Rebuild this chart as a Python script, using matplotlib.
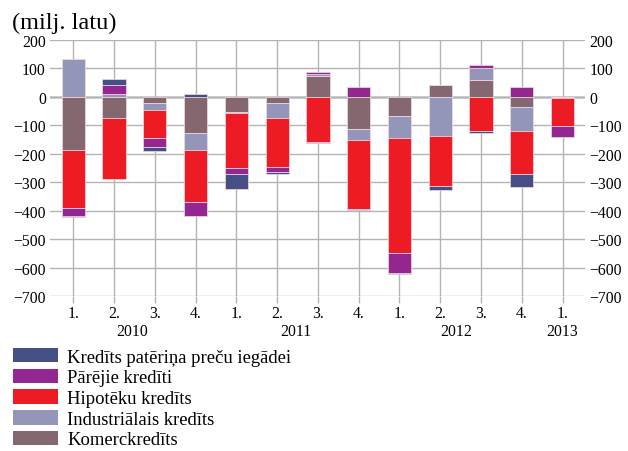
import numpy as np
import matplotlib
matplotlib.use("Agg")
import matplotlib.pyplot as plt
from matplotlib.patches import Patch
from matplotlib.transforms import blended_transform_factory

plt.rcParams['font.family'] = ['Liberation Serif', 'DejaVu Serif']

# quarters 2010 Q1 .. 2013 Q1
quarters = ["1.", "2.", "3.", "4.", "1.", "2.", "3.", "4.", "1.", "2.", "3.", "4.", "1."]
years = ["2010", "2011", "2012", "2013"]
year_pos = [1.45, 5.45, 9.4, 12]

# values (milj. latu)
komerc = [-186, -75, -20, -127, -52, -20, 73, -113, -66, 41, 61, -34, -2]
industrial = [132, 12, -25, -60, -6, -55, 7, -39, -78, -138, 41, -87, 0]
hipoteku = [-205, -213, -98, -181, -190, -172, -158, -240, -403, -174, -121, -148, -100]
parejie = [-26, 30, -34, -49, -21, -16, 8, 34, -71, 0, 9, 34, -39]
paterina = [-3, 22, -14, 10, -56, -6, -3, -4, -5, -16, -7, -48, 0]

# stacking order from zero outwards
series = [
    ("Komerckredīts", komerc, "#84676f"),
    ("Industriālais kredīts", industrial, "#9496b9"),
    ("Hipotēku kredīts", hipoteku, "#ed1c24"),
    ("Pārējie kredīti", parejie, "#93278f"),
    ("Kredīts patēriņa preču iegādei", paterina, "#464f85"),
]

fig = plt.figure(figsize=(6.28, 4.52), dpi=100)
ax = fig.add_axes([0.0796, 0.3423, 0.852, 0.567])

x = np.arange(len(quarters))
pos_bottom = np.zeros(len(x))
neg_bottom = np.zeros(len(x))
for name, vals, col in series:
    v = np.array(vals, dtype=float)
    bottom = np.where(v >= 0, pos_bottom, neg_bottom)
    ax.bar(x, v, 0.57, bottom=bottom, color=col, edgecolor="#f3dbe6",
           linewidth=0.5, zorder=3)
    pos_bottom += np.where(v >= 0, v, 0)
    neg_bottom += np.where(v < 0, v, 0)

ax.set_xlim(-0.57, 12.55)
ax.set_ylim(-700, 200)
ax.set_yticks(np.arange(-700, 201, 100))
ax.set_xticks(x)
ax.set_xticklabels(quarters, fontsize=11.3)
ax.grid(True, color="#b4b4b4", linewidth=1.0, zorder=0)
ax.axhline(0, color="#222222", linewidth=1.0, zorder=1)
for s in ax.spines.values():
    s.set_visible(False)
ax.tick_params(axis="x", length=5, color="#b4b4b4", width=1.0, pad=1)
ax.tick_params(axis="y", length=0, pad=3, labelsize=11.3,
               labelleft=True, labelright=True)

trans = blended_transform_factory(ax.transData, fig.transFigure)
for yr, p in zip(years, year_pos):
    ax.text(p, 1 - 332 / 452, yr, transform=trans, ha="center", va="center",
            fontsize=11.3)

fig.text(12 / 628, 1 - 23 / 452, "(milj. latu)", ha="left", va="center",
         fontsize=17.5)

handles = [Patch(facecolor=c, edgecolor="none") for _, _, c in series[::-1]]
labels = [n for n, _, _ in series[::-1]]
fig.legend(handles, labels, loc="upper left",
           bbox_to_anchor=(13 / 628, 1 - 349 / 452), frameon=False,
           fontsize=13.4, handlelength=2.4, handleheight=0.82,
           labelspacing=0.16, handletextpad=0.5, borderpad=0,
           borderaxespad=0)

fig.savefig("out.png", dpi=100)
